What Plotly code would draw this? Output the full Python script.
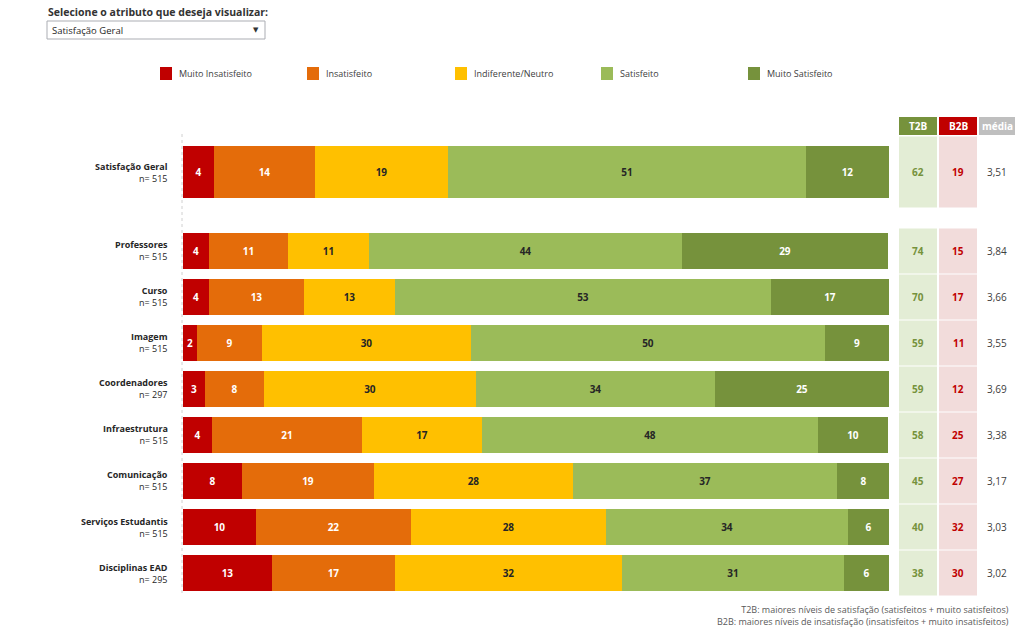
import plotly.graph_objects as go

# ---------------- data ----------------
categories = ["Satisfação Geral", "Professores", "Curso", "Imagem", "Coordenadores",
              "Infraestrutura", "Comunicação", "Serviços Estudantis", "Disciplinas EAD"]
n_values = [515, 515, 515, 515, 297, 515, 515, 515, 295]

series_names = ["Muito Insatisfeito", "Insatisfeito", "Indiferente/Neutro", "Satisfeito", "Muito Satisfeito"]
muito_insatisfeito = [4.4, 3.7, 3.7, 2.0, 3.1, 4.1, 8.4, 10.3, 12.6]
insatisfeito       = [14.3, 11.2, 13.4, 9.2, 8.4, 21.2, 18.6, 22.0, 17.4]
indiferente        = [18.8, 11.4, 12.9, 29.6, 30.0, 17.1, 28.3, 27.6, 32.2]
satisfeito         = [50.7, 44.4, 53.3, 50.1, 33.9, 47.6, 37.3, 34.3, 31.4]
muito_satisfeito   = [11.8, 29.2, 16.7, 9.1, 24.6, 9.9, 7.6, 5.8, 6.4]
series_values = [muito_insatisfeito, insatisfeito, indiferente, satisfeito, muito_satisfeito]

t2b = [62, 74, 70, 59, 59, 58, 45, 40, 38]
b2b = [19, 15, 17, 11, 12, 25, 27, 32, 30]
media = ["3,51", "3,84", "3,66", "3,55", "3,69", "3,38", "3,17", "3,03", "3,02"]

# ---------------- styles ----------------
colors = ["#C00000", "#E46C0A", "#FFC000", "#9BBB59", "#76923C"]
text_colors = ["#FFFFFF", "#FFFFFF", "#262626", "#262626", "#FFFFFF"]
FONT = "Open Sans"
W, H = 1024, 640

def px_x(x):
    return x / W

def px_y(y):
    return 1 - y / H

# row positions (first row separated from the rest, taller bar)
ypos = [-0.717] + list(range(1, len(categories)))
bar_w = [1.15] + [0.78] * (len(categories) - 1)
cell_half = [0.77] + [0.489] * (len(categories) - 1)

fig = go.Figure()
for name, vals, col, tcol in zip(series_names, series_values, colors, text_colors):
    fig.add_trace(go.Bar(
        name=name, y=ypos, x=vals, width=bar_w, orientation="h",
        marker=dict(color=col, line=dict(width=0)),
        texttemplate="<b>%{x:.0f}</b>", textposition="inside",
        insidetextanchor="middle",
        textfont=dict(family=FONT, size=10, color=tcol),
        hovertemplate="%{x:.0f}%<extra>" + name + "</extra>",
        showlegend=False,
    ))

shapes = []
annotations = []

# dotted axis line on the left of bars
shapes.append(dict(type="line", xref="paper", yref="paper",
                   x0=px_x(182), x1=px_x(182), y0=px_y(134), y1=px_y(596),
                   line=dict(color="#D0D0D0", width=1, dash="dot")))

# y labels
for cat, n, y in zip(categories, n_values, ypos):
    annotations.append(dict(xref="paper", yref="y", x=px_x(170), y=y,
                            xanchor="right", yanchor="middle", align="right",
                            text=f"<b>{cat}</b><br>n= {n}", showarrow=False,
                            font=dict(family=FONT, size=9, color="#262626")))

# right side columns
cols = [
    dict(x0=899, x1=937, head="T2B", head_bg="#76923C", cell_bg="#E3EDD5", vals=t2b, tcol="#76923C", bold=True),
    dict(x0=939, x1=977, head="B2B", head_bg="#C00000", cell_bg="#F2DCDB", vals=b2b, tcol="#C00000", bold=True),
    dict(x0=979, x1=1015, head="média", head_bg="#BFBFBF", cell_bg=None, vals=media, tcol="#404040", bold=False),
]
for c in cols:
    shapes.append(dict(type="rect", xref="paper", yref="paper",
                       x0=px_x(c["x0"]), x1=px_x(c["x1"]), y0=px_y(135), y1=px_y(117),
                       fillcolor=c["head_bg"], line=dict(width=0), layer="below"))
    annotations.append(dict(xref="paper", yref="paper", x=px_x((c["x0"] + c["x1"]) / 2), y=px_y(126),
                            xanchor="center", yanchor="middle", showarrow=False,
                            text=f"<b>{c['head']}</b>",
                            font=dict(family=FONT, size=10, color="#FFFFFF")))
    for v, y, hh in zip(c["vals"], ypos, cell_half):
        if c["cell_bg"]:
            shapes.append(dict(type="rect", xref="paper", yref="y",
                               x0=px_x(c["x0"]), x1=px_x(c["x1"]), y0=y - hh, y1=y + hh,
                               fillcolor=c["cell_bg"], line=dict(width=0), layer="below"))
        txt = f"<b>{v}</b>" if c["bold"] else f"{v}"
        annotations.append(dict(xref="paper", yref="y", x=px_x((c["x0"] + c["x1"]) / 2), y=y,
                                xanchor="center", yanchor="middle", showarrow=False, text=txt,
                                font=dict(family=FONT, size=10, color=c["tcol"])))

# legend (manual)
legend_x = [160, 307, 455, 601, 748]
for name, col, lx in zip(series_names, colors, legend_x):
    shapes.append(dict(type="rect", xref="paper", yref="paper",
                       x0=px_x(lx), x1=px_x(lx + 12), y0=px_y(80), y1=px_y(67),
                       fillcolor=col, line=dict(width=0)))
    annotations.append(dict(xref="paper", yref="paper", x=px_x(lx + 17), y=px_y(73.5),
                            xanchor="left", yanchor="middle", showarrow=False, text=name,
                            font=dict(family=FONT, size=9, color="#404040")))

# header & dropdown look-alike
annotations.append(dict(xref="paper", yref="paper", x=px_x(46), y=px_y(12),
                        xanchor="left", yanchor="middle", showarrow=False,
                        text="<b>Selecione o atributo que deseja visualizar:</b>",
                        font=dict(family=FONT, size=10.5, color="#333333")))
shapes.append(dict(type="rect", xref="paper", yref="paper",
                   x0=px_x(47), x1=px_x(265), y0=px_y(39), y1=px_y(21),
                   fillcolor="#FFFFFF", line=dict(color="#ABADB3", width=1)))
annotations.append(dict(xref="paper", yref="paper", x=px_x(50), y=px_y(30),
                        xanchor="left", yanchor="middle", showarrow=False,
                        text="Satisfação Geral",
                        font=dict(family=FONT, size=9.5, color="#262626")))
annotations.append(dict(xref="paper", yref="paper", x=px_x(256), y=px_y(30),
                        xanchor="center", yanchor="middle", showarrow=False,
                        text="▼", font=dict(family="DejaVu Sans", size=7, color="#333333")))

# footnote
annotations.append(dict(xref="paper", yref="paper", x=px_x(1011), y=px_y(615),
                        xanchor="right", yanchor="middle", align="right", showarrow=False,
                        text="T2B: maiores níveis de satisfação (satisfeitos + muito satisfeitos)<br>"
                             "B2B: maiores níveis de insatisfação (insatisfeitos + muito insatisfeitos)",
                        font=dict(family=FONT, size=9, color="#595959")))

fig.update_layout(
    width=W, height=H, margin=dict(l=0, r=0, t=0, b=0),
    paper_bgcolor="white", plot_bgcolor="white",
    barmode="stack", bargap=0,
    xaxis=dict(range=[0, 100], domain=[px_x(183), px_x(889)], visible=False, fixedrange=True),
    yaxis=dict(range=[8.587, -1.630], domain=[px_y(600), px_y(130)], visible=False, fixedrange=True),
    uniformtext=dict(minsize=10, mode="show"),
    shapes=shapes, annotations=annotations,
    font=dict(family=FONT),
)

fig.write_html("out.html", config={"displayModeBar": False})
